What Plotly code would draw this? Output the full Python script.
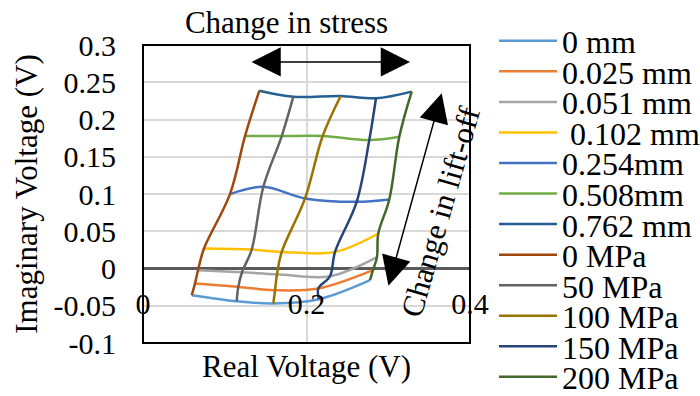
import plotly.graph_objects as go

# ---- data ----
liftoff_names = ["0 mm", "0.025 mm", "0.051 mm", " 0.102 mm", "0.254mm", "0.508mm", "0.762 mm"]
stress_names = ["0 MPa", "50 MPa", "100 MPa", "150 MPa", "200 MPa"]

# each row: one lift-off, values at stress 0, 50, 100, 150, 200 MPa
real_0mm = [0.0596, 0.1146, 0.1594, 0.2153, 0.2777]
imag_0mm = [-0.0359, -0.0440, -0.0470, -0.0413, -0.0157]
real_0025mm = [0.0636, 0.1166, 0.1615, 0.2144, 0.2813]
imag_0025mm = [-0.0202, -0.0247, -0.0292, -0.0269, -0.0023]
real_0051mm = [0.0673, 0.1211, 0.1639, 0.2287, 0.2862]
imag_0051mm = [-0.0023, -0.0050, -0.0077, -0.0104, 0.0152]
real_0102mm = [0.0746, 0.1330, 0.1697, 0.2349, 0.2878]
imag_0102mm = [0.0269, 0.0255, 0.0223, 0.0223, 0.0470]
real_0254mm = [0.1064, 0.1472, 0.1982, 0.2614, 0.3013]
imag_0254mm = [0.0999, 0.1097, 0.0941, 0.0895, 0.0927]
real_0508mm = [0.1248, 0.1697, 0.2198, 0.2768, 0.3135]
imag_0508mm = [0.1778, 0.1778, 0.1778, 0.1724, 0.1769]
real_0762mm = [0.1423, 0.1839, 0.2418, 0.2850, 0.3287]
imag_0762mm = [0.2387, 0.2306, 0.2316, 0.2285, 0.2374]

x_ticks = [0, 0.2, 0.4]
x_tick_labels = ["0", "0.2", "0.4"]
y_ticks = [-0.1, -0.05, 0, 0.05, 0.1, 0.15, 0.2, 0.25, 0.3]
y_tick_labels = ["-0.1", "-0.05", "0", "0.05", "0.1", "0.15", "0.2", "0.25", "0.3"]

liftoff_colors = ["#5B9BD5", "#ED7D31", "#A5A5A5", "#FFC000", "#4472C4", "#70AD47", "#255E91"]
stress_colors = ["#9E480E", "#636363", "#997300", "#264478", "#43682B"]

real_rows = [real_0mm, real_0025mm, real_0051mm, real_0102mm, real_0254mm, real_0508mm, real_0762mm]
imag_rows = [imag_0mm, imag_0025mm, imag_0051mm, imag_0102mm, imag_0254mm, imag_0508mm, imag_0762mm]

FONT = "Liberation Serif, Times New Roman, serif"
L, R, T, B = 143, 230, 45, 53
W, H = 700, 396
PW, PH = W - L - R, H - T - B

fig = go.Figure()
legend_ids = []
k = 0
for name, col, xs, ys in zip(liftoff_names, liftoff_colors, real_rows, imag_rows):
    lid = "legend" if k == 0 else f"legend{k+1}"
    legend_ids.append(lid)
    fig.add_trace(go.Scatter(x=xs, y=ys, name=name, mode="lines",
                             line=dict(color=col, width=2.5, shape="spline"),
                             legend=lid))
    k += 1
for i, (name, col) in enumerate(zip(stress_names, stress_colors)):
    lid = f"legend{k+1}"
    legend_ids.append(lid)
    xs = [row[i] for row in real_rows]
    ys = [row[i] for row in imag_rows]
    fig.add_trace(go.Scatter(x=xs, y=ys, name=name, mode="lines",
                             line=dict(color=col, width=2.5, shape="spline"),
                             legend=lid))
    k += 1

legend_layout = {}
for j, lid in enumerate(legend_ids):
    ypx = 41 + 30.55 * j
    legend_layout[lid] = dict(
        x=(494 - L) / PW, xanchor="left",
        y=(H - B - ypx) / PH, yanchor="middle",
        bgcolor="rgba(0,0,0,0)", borderwidth=0,
        font=dict(family=FONT, size=32, color="black"),
        itemwidth=58,
    )

arrow_common = dict(text="", showarrow=True, xref="x", yref="y", axref="x", ayref="y",
                    arrowcolor="black", arrowwidth=1.5)
annotations = [
    dict(x=0.3266, y=0.2773, ax=0.1309, ay=0.2773, arrowhead=2, startarrowhead=2,
         arrowside="end+start", arrowsize=3.9, startarrowsize=3.9, **arrow_common),
    dict(x=0.3654, y=0.2352, ax=0.2997, ay=-0.0251, arrowhead=2, startarrowhead=2,
         arrowside="end+start", arrowsize=3.9, startarrowsize=3.9, **arrow_common),
    dict(x=0.3633, y=0.0757, xref="x", yref="y", text="Change in lift-off", showarrow=False,
         textangle=-74, font=dict(family=FONT, size=31, color="black")),
]

fig.update_layout(
    width=W, height=H,
    font=dict(family=FONT, color="black"),
    margin=dict(l=L, r=R, t=T, b=B, autoexpand=False),
    paper_bgcolor="white", plot_bgcolor="white",
    showlegend=True,
    title=dict(text="Change in stress", x=(286.5 - L) / PW, xref="paper", xanchor="center",
               y=1 - 22 / H, yref="container", yanchor="middle",
               font=dict(family=FONT, size=31, color="black")),
    annotations=annotations,
    shapes=[dict(type="rect", xref="paper", yref="paper", x0=0, x1=1, y0=0, y1=1,
                 line=dict(color="black", width=2), layer="above")],
    **legend_layout,
)
fig.update_xaxes(range=[0, 0.4], tickvals=x_ticks, ticktext=x_tick_labels,
                 showgrid=True, gridcolor="#D9D9D9", gridwidth=1.5, zeroline=False,
                 showline=False, ticks="", ticklabelposition="inside",
                 ticklabelstandoff=20, ticklabeloverflow="allow",
                 tickfont=dict(family=FONT, size=30, color="black"),
                 title=dict(text="Real Voltage (V)", font=dict(family=FONT, size=31, color="black"),
                            standoff=36))
fig.update_yaxes(range=[-0.1, 0.3], tickvals=y_ticks, ticktext=y_tick_labels,
                 showgrid=True, gridcolor="#D9D9D9", gridwidth=1.5,
                 zeroline=True, zerolinecolor="#5A5A5A", zerolinewidth=2.5,
                 showline=False, ticks="", ticklabelstandoff=26,
                 tickfont=dict(family=FONT, size=30, color="black"),
                 title=dict(text="Imaginary Voltage (V)", font=dict(family=FONT, size=31, color="black"),
                            standoff=6))

fig.write_html("out.html", config={"displayModeBar": False},
               post_script="document.body.style.margin='0';document.body.style.overflow='hidden';")
